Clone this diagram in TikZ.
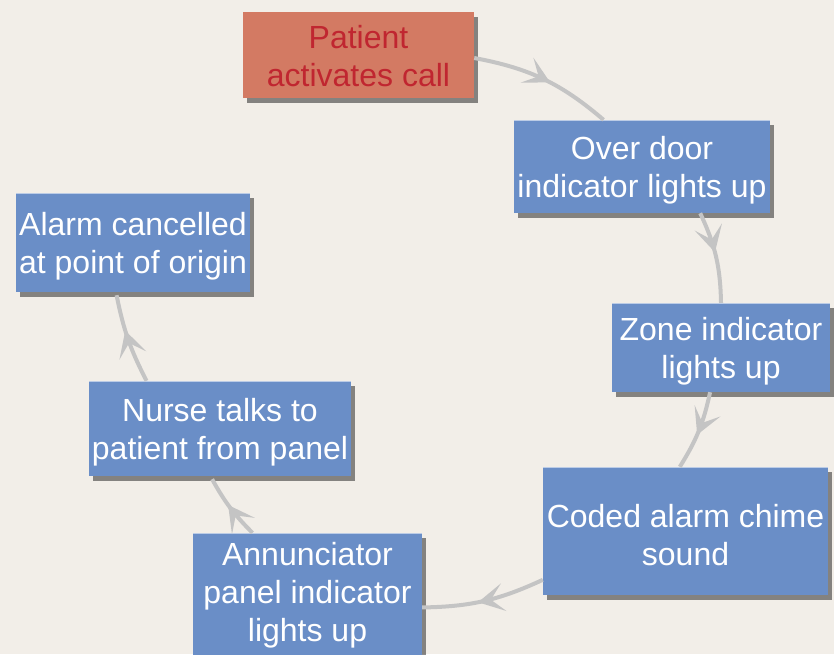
\documentclass[tikz,border=0pt]{standalone}
\usepackage{fontspec}
\setmainfont{Liberation Sans}
\usetikzlibrary{arrows.meta,shadows,decorations.markings,calc}
\definecolor{bgcol}{RGB}{242,238,232}
\definecolor{boxblue}{RGB}{106,142,199}
\definecolor{startfill}{RGB}{211,122,99}
\definecolor{starttext}{RGB}{192,38,48}
\definecolor{arrowgray}{RGB}{196,196,196}
\newcommand\mytopstrut{\rule{0pt}{31pt}}
\newcommand\mysmallstrut{\rule{0pt}{26pt}}
\tikzset{
  stepbox/.style={rectangle, fill=boxblue, text=white, align=center, inner sep=0pt,
    font=\fontsize{32}{38}\selectfont,
    drop shadow={shadow xshift=4pt, shadow yshift=-5pt, fill=black, opacity=0.45},
    path picture={\draw[line width=2pt, white!55!boxblue]
      (path picture bounding box.north west) -- (path picture bounding box.north east);}},
  startbox/.style={stepbox, fill=startfill, text=starttext,
    path picture={}},
  conn/.style={draw=arrowgray, line width=4pt, postaction={decorate},
    decoration={markings, mark=at position #1 with
      {\arrow[arrowgray]{Stealth[length=26pt 0 0,width=28pt 0 0,inset=13pt 0]}}}},
  conn/.default=0.55
}
\begin{document}
\begin{tikzpicture}
\useasboundingbox (0,0) rectangle (834pt,-654pt);
\fill[bgcol] (0,0) rectangle (834pt,-654pt);
\begin{scope}[x=1pt,y=1pt]
\node[startbox, minimum width=231pt, minimum height=86pt] (P) at (358.5,-55) {\mysmallstrut Patient\\activates call};
\node[stepbox, minimum width=256pt, minimum height=93pt] (O) at (642,-166.5) {\mytopstrut Over door\\indicator lights up};
\node[stepbox, minimum width=218pt, minimum height=89pt] (Z) at (721,-347.5) {\mytopstrut Zone indicator\\lights up};
\node[stepbox, minimum width=285pt, minimum height=128pt] (C) at (685.5,-531) {\mytopstrut Coded alarm chime\\sound};
\node[stepbox, minimum width=229pt, minimum height=124pt] (A) at (307.5,-595) {Annunciator\\panel indicator\\lights up};
\node[stepbox, minimum width=262pt, minimum height=95pt] (N) at (220,-428.5) {\mytopstrut Nurse talks to\\patient from panel};
\node[stepbox, minimum width=234pt, minimum height=99pt] (L) at (133,-242.5) {\mytopstrut Alarm cancelled\\at point of origin};

\coordinate (p1) at ([yshift=-3pt]P.east);
\coordinate (o1) at ($(O.north west)!0.35!(O.north east)$);
\coordinate (o2) at ($(O.south west)!0.727!(O.south east)$);
\coordinate (z1) at (Z.north);
\coordinate (z2) at ($(Z.south west)!0.45!(Z.south east)$);
\coordinate (c1) at ($(C.north west)!0.48!(C.north east)$);
\coordinate (c2) at ($(C.north west)!0.88!(C.south west)$);
\coordinate (a1) at ($(A.north east)!0.6!(A.south east)$);
\coordinate (a2) at ($(A.north west)!0.26!(A.north east)$);
\coordinate (n1) at ([yshift=-3pt]$(N.south west)!0.47!(N.south east)$);
\coordinate (n2) at ($(N.north west)!0.22!(N.north east)$);
\coordinate (l1) at ([yshift=-3pt]$(L.south west)!0.43!(L.south east)$);
\end{scope}
\draw[conn=0.55] (p1) to[bend left=15] (o1);
\draw[conn=0.45] (o2) to[bend left=12] (z1);
\draw[conn=0.55] (z2) to[bend left=10] (c1);
\draw[conn=0.55] (c2) to[bend left=12] (a1);
\draw[conn=0.55] (a2) to[bend left=8] (n1);
\draw[conn=0.6] (n2) to[bend left=8] (l1);
\end{tikzpicture}
\end{document}
